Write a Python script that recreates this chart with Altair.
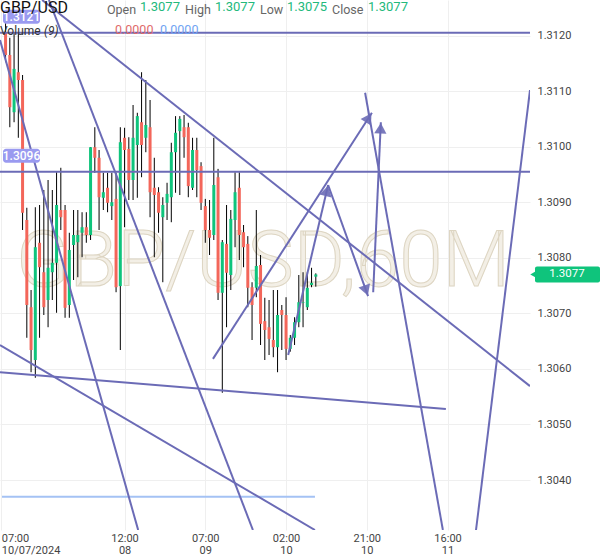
import math
import altair as alt
import pandas as pd

# ---------------- data (hours since 07:00 07 Oct 2024, GBP/USD 60M) ----------------
opens = [1.31205, 1.31165, 1.31062, 1.31134, 1.31120, 1.30868, 1.30711, 1.30616, 1.30827, 1.30774,
         1.30724, 1.30774, 1.30791, 1.30886, 1.30886, 1.30715, 1.30823, 1.30828, 1.30845, 1.30855,
         1.30841, 1.30999, 1.30980, 1.30908, 1.30926, 1.30893, 1.30906, 1.30749, 1.31016, 1.30996,
         1.30940, 1.31003, 1.31044, 1.31016, 1.31035, 1.30926, 1.30918, 1.30873, 1.30899, 1.30909,
         1.30990, 1.31028, 1.31035, 1.31035, 1.30926, 1.30994, 1.30965, 1.30893, 1.30850, 1.30841,
         1.30945, 1.30737, 1.30825, 1.30769, 1.30868, 1.30926, 1.30846, 1.30825, 1.30747, 1.30746,
         1.30787, 1.30686, 1.30675, 1.30652, 1.30639, 1.30706, 1.30697, 1.30636, 1.30656, 1.30684,
         1.30719, 1.30711, 1.30751, 1.30766]
highs = [1.31232, 1.31196, 1.31205, 1.31205, 1.31129, 1.30890, 1.30742, 1.30891, 1.30895, 1.30922,
         1.30940, 1.30922, 1.30954, 1.30962, 1.30895, 1.30845, 1.30886, 1.30886, 1.30882, 1.30882,
         1.30999, 1.31035, 1.30994, 1.30953, 1.30953, 1.30953, 1.30953, 1.31035, 1.31034, 1.31017,
         1.31075, 1.31061, 1.31134, 1.31120, 1.31084, 1.30980, 1.30927, 1.30909, 1.30935, 1.31007,
         1.31055, 1.31055, 1.31057, 1.31043, 1.31016, 1.31016, 1.30972, 1.30906, 1.30904, 1.31016,
         1.30960, 1.30832, 1.30895, 1.30886, 1.30954, 1.30954, 1.30859, 1.30839, 1.30756, 1.30886,
         1.30805, 1.30728, 1.30724, 1.30742, 1.30742, 1.30715, 1.30729, 1.30661, 1.30693, 1.30769,
         1.30774, 1.30774, 1.30782, 1.30772]
lows = [1.31152, 1.31035, 1.31044, 1.31016, 1.30850, 1.30656, 1.30594, 1.30584, 1.30656, 1.30697,
        1.30675, 1.30724, 1.30701, 1.30850, 1.30692, 1.30692, 1.30760, 1.30765, 1.30801, 1.30827,
        1.30832, 1.30953, 1.30850, 1.30886, 1.30882, 1.30868, 1.30738, 1.30634, 1.30855, 1.30904,
        1.30904, 1.30908, 1.30945, 1.30990, 1.30873, 1.30801, 1.30845, 1.30756, 1.30868, 1.30864,
        1.30917, 1.30913, 1.30980, 1.30909, 1.30922, 1.30909, 1.30886, 1.30827, 1.30805, 1.30832,
        1.30724, 1.30557, 1.30675, 1.30742, 1.30819, 1.30796, 1.30783, 1.30711, 1.30652, 1.30729,
        1.30643, 1.30616, 1.30625, 1.30621, 1.30594, 1.30634, 1.30616, 1.30631, 1.30643, 1.30675,
        1.30675, 1.30706, 1.30747, 1.30748]
closes = [1.31165, 1.31071, 1.31140, 1.31120, 1.30881, 1.30715, 1.30634, 1.30819, 1.30783, 1.30711,
          1.30782, 1.30791, 1.30895, 1.30873, 1.30710, 1.30814, 1.30841, 1.30841, 1.30855, 1.30841,
          1.30999, 1.30980, 1.30909, 1.30918, 1.30899, 1.30900, 1.30747, 1.31008, 1.30994, 1.30940,
          1.31016, 1.31055, 1.31003, 1.31039, 1.30918, 1.30913, 1.30881, 1.30895, 1.30915, 1.30990,
          1.31025, 1.31050, 1.31017, 1.30929, 1.30994, 1.30958, 1.30899, 1.30850, 1.30836, 1.30931,
          1.30737, 1.30828, 1.30773, 1.30870, 1.30918, 1.30841, 1.30819, 1.30746, 1.30715, 1.30785,
          1.30681, 1.30670, 1.30654, 1.30639, 1.30697, 1.30697, 1.30636, 1.30656, 1.30684, 1.30720,
          1.30720, 1.30746, 1.30755, 1.30770]
hours = list(range(1, len(opens) + 1))

# drawn trend lines: (hour1, price1, hour2, price2)
line_ids = ["h1", "h2", "d4", "d5", "d6", "d7", "d8", "a9", "a10", "a11", "a12", "d13", "d14"]
line_h1 = [-0.31, -0.31, -0.31, -0.31, -0.31, 11.2, 9.6, 49.8, 67.5, 76.9, 87.5, 85.6, 111.7]
line_p1 = [1.31205, 1.30955, 1.30643, 1.30594, 1.31192, 1.31264, 1.31264, 1.30618, 1.30625, 1.30931, 1.30738, 1.31097, 1.30310]
line_h2 = [124.4, 124.4, 73.8, 104.6, 32.2, 59.2, 124.4, 87.2, 76.9, 86.3, 89.3, 103.9, 124.4]
line_p2 = [1.31205, 1.30955, 1.30310, 1.30528, 1.30310, 1.30310, 1.30569, 1.31061, 1.30931, 1.30731, 1.31044, 1.30310, 1.31102]
arrow_ids = ["a9", "a10", "a11", "a12"]
blue_h = [0.16, 73.8]
blue_p = [1.30370, 1.30370]

level_prices = [1.31205, 1.30955]
level_labels = ["1.3121", "1.3096"]
last_price = 1.3077

tick_hours = [0, 29, 48, 67, 86, 105]
tick_time = ["07:00", "12:00", "07:00", "02:00", "21:00", "16:00"]
tick_day = ["10/07/2024", "08", "09", "10", "10", "11"]
y_ticks = [1.3040, 1.3050, 1.3060, 1.3070, 1.3080, 1.3090, 1.3100, 1.3110, 1.3120]

# ---------------- layout / style ----------------
W, H = 530, 530
XDOM = [-0.31, 124.4]
YDOM = [1.3031, 1.31264]
PURPLE = "#6b6bb6"
GREEN = "#0fc47c"
RED = "#f3665a"
FONT = "Roboto"

xs = alt.Scale(domain=XDOM, nice=False, zero=False, padding=0)
ys = alt.Scale(domain=YDOM, nice=False, zero=False, padding=0)

label_expr = ""
for th, tt, td in zip(tick_hours, tick_time, tick_day):
    label_expr += f"datum.value == {th} ? ['{tt}', '{td}'] : "
label_expr += "''"

AX = alt.Axis(values=tick_hours, labelExpr=label_expr, title=None, ticks=False, domain=False,
              grid=True, gridColor="#efefef", labelColor="#444", labelFontSize=11, labelFont=FONT,
              labelPadding=2, labelLineHeight=12, labelBaseline="top", labelOverlap=False,
              labelAlign={"condition": {"test": "datum.value == 0", "value": "left"}, "value": "center"})
AY = alt.Axis(values=y_ticks, format=".4f", orient="right", title=None, ticks=False, domain=False,
              grid=True, gridColor="#efefef", labelColor="#444", labelFontSize=11, labelFont=FONT,
              labelPadding=7, labelOverlap=False)

candles = pd.DataFrame({"h": hours, "o": opens, "hi": highs, "lo": lows, "c": closes})
candles["up"] = candles["c"] >= candles["o"]

wicks = alt.Chart(candles).mark_rule(color="#000000", strokeWidth=1).encode(
    x=alt.X("h:Q", scale=xs, axis=AX),
    y=alt.Y("lo:Q", scale=ys, axis=AY),
    y2="hi:Q",
)
bodies = alt.Chart(candles).mark_bar(size=3).encode(
    x=alt.X("h:Q", scale=xs, axis=AX),
    y=alt.Y("o:Q", scale=ys, axis=AY),
    y2="c:Q",
    color=alt.condition("datum.up", alt.value(GREEN), alt.value(RED)),
)

rows = []
for lid, a, b, c, d in zip(line_ids, line_h1, line_p1, line_h2, line_p2):
    rows.append({"id": lid, "h": a, "p": b, "k": 0})
    rows.append({"id": lid, "h": c, "p": d, "k": 1})
lines_df = pd.DataFrame(rows)
trend = alt.Chart(lines_df).mark_line(color=PURPLE, strokeWidth=2, clip=True).encode(
    x=alt.X("h:Q", scale=xs, axis=AX),
    y=alt.Y("p:Q", scale=ys, axis=AY),
    detail="id:N",
    order="k:Q",
)
blue = alt.Chart(pd.DataFrame({"h": blue_h, "p": blue_p})).mark_line(
    color="#a4c2f4", strokeWidth=2, clip=True).encode(
    x=alt.X("h:Q", scale=xs, axis=AX),
    y=alt.Y("p:Q", scale=ys, axis=AY),
)

# arrow heads
PXH = W / (XDOM[1] - XDOM[0])
PXP = H / (YDOM[1] - YDOM[0])
heads = []
for lid, a, b, c, d in zip(line_ids, line_h1, line_p1, line_h2, line_p2):
    if lid not in arrow_ids:
        continue
    dx = (c - a) * PXH
    dy = -(d - b) * PXP
    L = math.hypot(dx, dy)
    ux, uy = dx / L, dy / L
    ang = math.degrees(math.atan2(dx, -dy)) % 360
    heads.append({"h": c - ux * 6 / PXH, "p": d + uy * 6 / PXP, "ang": ang})
heads_df = pd.DataFrame(heads)
arrowheads = alt.Chart(heads_df).mark_point(shape="triangle-up", filled=True, size=150,
                                             color=PURPLE, opacity=0.9).encode(
    x=alt.X("h:Q", scale=xs, axis=AX),
    y=alt.Y("p:Q", scale=ys, axis=AY),
    angle=alt.Angle("ang:Q", scale=None),
)

watermark = alt.Chart(pd.DataFrame({"t": ["GBP/USD,60M"]})).mark_text(
    font=FONT, fontSize=78, fontWeight=300, fill="#f3efe6", stroke="#ddd5c2", strokeWidth=1,
    align="center", baseline="middle").encode(
    text="t:N", x=alt.value(263), y=alt.value(263))

# level labels (purple boxes)
lv = pd.DataFrame({"p": level_prices, "t": level_labels})
lv_box = alt.Chart(lv).mark_rect(color="#9a9af0", cornerRadius=3, yOffset=-23, y2Offset=-9).encode(
    x=alt.value(3), x2=alt.value(40),
    y=alt.Y("p:Q", scale=ys, axis=AY), y2="p:Q")
lv_txt = alt.Chart(lv).mark_text(color="white", font=FONT, fontSize=12, fontWeight=500,
                                 align="center", baseline="middle", dy=-16).encode(
    x=alt.value(21.5), y=alt.Y("p:Q", scale=ys, axis=AY), text="t:N")

# last price label
lp = pd.DataFrame({"p": [last_price], "t": [f"{last_price:.4f}"]})
lp_box = alt.Chart(lp).mark_rect(color=GREEN, cornerRadius=2, yOffset=-8, y2Offset=8).encode(
    x=alt.value(535), x2=alt.value(600),
    y=alt.Y("p:Q", scale=ys, axis=AY), y2="p:Q")
lp_tip = alt.Chart(lp).mark_point(shape="triangle-left", filled=True, size=40, color=GREEN, opacity=1).encode(
    x=alt.value(533), y=alt.Y("p:Q", scale=ys, axis=AY))
lp_txt = alt.Chart(lp).mark_text(color="white", font=FONT, fontSize=11.5, align="center",
                                 baseline="middle").encode(
    x=alt.value(567), y=alt.Y("p:Q", scale=ys, axis=AY), text="t:N")


def label(txt, x, y, size, color, weight="normal", style="normal"):
    return alt.Chart(pd.DataFrame({"t": [txt]})).mark_text(
        font=FONT, fontSize=size, color=color, fontWeight=weight, fontStyle=style,
        align="left", baseline="middle").encode(text="t:N", x=alt.value(x), y=alt.value(y))


header = [
    label("GBP/USD", 0, 8, 16, "#111111"),
    label("Open", 107, 10, 12.5, "#666666"),
    label("1.3077", 140, 7, 13, "#22b97c"),
    label("High", 185, 10, 12.5, "#666666"),
    label("1.3077", 215, 7, 13, "#22b97c"),
    label("Low", 260, 10, 12.5, "#666666"),
    label("1.3075", 287, 7, 13, "#22b97c"),
    label("Close", 332, 10, 12.5, "#666666"),
    label("1.3077", 368, 7, 13, "#22b97c"),
    label("Volume", 0, 31, 12, "#333333"),
    label("(9)", 44, 31, 12, "#333333", style="italic"),
    label("0.0000", 115, 30, 12.5, "#e06a6a"),
    label("0.0000", 160, 30, 12.5, "#6fa3f2"),
]

chart = alt.layer(
    watermark, wicks, bodies, blue, trend, arrowheads,
    lv_box, lv_txt, lp_box, lp_tip, lp_txt, *header
).properties(width=W, height=H, padding=0, background="white").configure_view(stroke=None)

chart.save("out.html", embed_options={"renderer": "svg", "actions": False})
